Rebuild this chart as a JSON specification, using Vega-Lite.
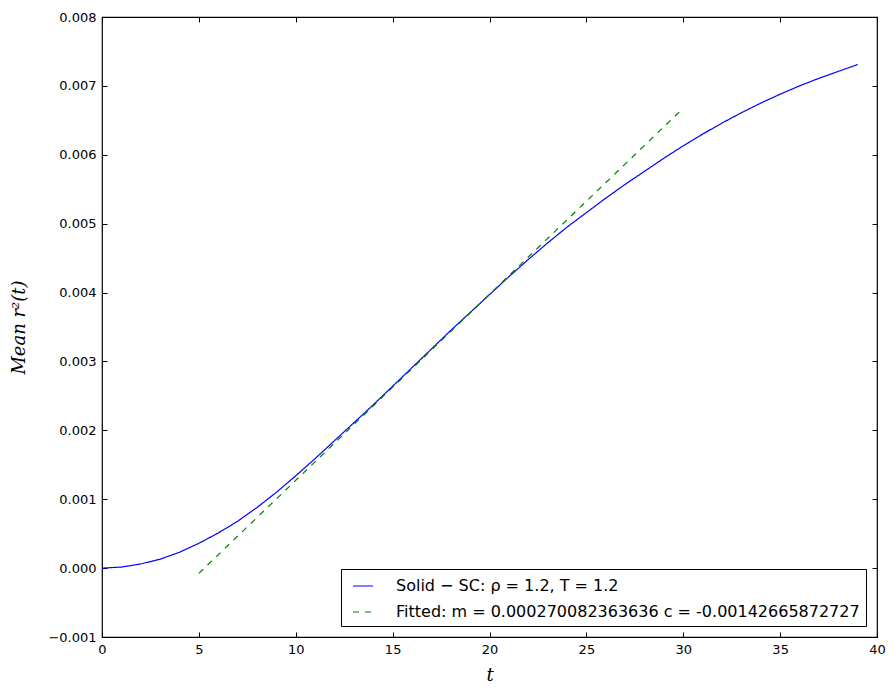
{
  "$schema": "https://vega.github.io/schema/vega-lite/v6.json",
  "width": 775,
  "height": 620,
  "autosize": "none",
  "padding": {"left": 102, "top": 17, "right": 19, "bottom": 56},
  "background": "white",
  "config": {
    "view": {"stroke": "black", "strokeWidth": 1.2},
    "axis": {
      "grid": false,
      "domain": false,
      "tickColor": "black",
      "tickSize": -5,
      "tickWidth": 1,
      "labelFont": "DejaVu Sans",
      "labelFontSize": 13,
      "labelColor": "black",
      "labelPadding": 11,
      "labelFlush": false,
      "titleFont": "DejaVu Serif",
      "titleFontStyle": "italic",
      "titleFontWeight": "normal",
      "titleFontSize": 18,
      "titleColor": "black"
    }
  },
  "data": {
    "values": [
      {"t": 0, "v": 0.0, "series": "Solid − SC: ρ = 1.2,  T = 1.2"},
      {"t": 1, "v": 0.000015, "series": "Solid − SC: ρ = 1.2,  T = 1.2"},
      {"t": 2, "v": 0.00006, "series": "Solid − SC: ρ = 1.2,  T = 1.2"},
      {"t": 3, "v": 0.00013, "series": "Solid − SC: ρ = 1.2,  T = 1.2"},
      {"t": 4, "v": 0.00023, "series": "Solid − SC: ρ = 1.2,  T = 1.2"},
      {"t": 5, "v": 0.00036, "series": "Solid − SC: ρ = 1.2,  T = 1.2"},
      {"t": 6, "v": 0.00051, "series": "Solid − SC: ρ = 1.2,  T = 1.2"},
      {"t": 7, "v": 0.00068, "series": "Solid − SC: ρ = 1.2,  T = 1.2"},
      {"t": 8, "v": 0.00088, "series": "Solid − SC: ρ = 1.2,  T = 1.2"},
      {"t": 9, "v": 0.0011, "series": "Solid − SC: ρ = 1.2,  T = 1.2"},
      {"t": 10, "v": 0.00134, "series": "Solid − SC: ρ = 1.2,  T = 1.2"},
      {"t": 11, "v": 0.00159, "series": "Solid − SC: ρ = 1.2,  T = 1.2"},
      {"t": 12, "v": 0.00185, "series": "Solid − SC: ρ = 1.2,  T = 1.2"},
      {"t": 13, "v": 0.00211, "series": "Solid − SC: ρ = 1.2,  T = 1.2"},
      {"t": 14, "v": 0.00237, "series": "Solid − SC: ρ = 1.2,  T = 1.2"},
      {"t": 15, "v": 0.00264, "series": "Solid − SC: ρ = 1.2,  T = 1.2"},
      {"t": 16, "v": 0.00291, "series": "Solid − SC: ρ = 1.2,  T = 1.2"},
      {"t": 17, "v": 0.00318, "series": "Solid − SC: ρ = 1.2,  T = 1.2"},
      {"t": 18, "v": 0.00345, "series": "Solid − SC: ρ = 1.2,  T = 1.2"},
      {"t": 19, "v": 0.00371, "series": "Solid − SC: ρ = 1.2,  T = 1.2"},
      {"t": 20, "v": 0.00397, "series": "Solid − SC: ρ = 1.2,  T = 1.2"},
      {"t": 21, "v": 0.00423, "series": "Solid − SC: ρ = 1.2,  T = 1.2"},
      {"t": 22, "v": 0.00448, "series": "Solid − SC: ρ = 1.2,  T = 1.2"},
      {"t": 23, "v": 0.00472, "series": "Solid − SC: ρ = 1.2,  T = 1.2"},
      {"t": 24, "v": 0.00495, "series": "Solid − SC: ρ = 1.2,  T = 1.2"},
      {"t": 25, "v": 0.00516, "series": "Solid − SC: ρ = 1.2,  T = 1.2"},
      {"t": 26, "v": 0.00537, "series": "Solid − SC: ρ = 1.2,  T = 1.2"},
      {"t": 27, "v": 0.00557, "series": "Solid − SC: ρ = 1.2,  T = 1.2"},
      {"t": 28, "v": 0.00576, "series": "Solid − SC: ρ = 1.2,  T = 1.2"},
      {"t": 29, "v": 0.00595, "series": "Solid − SC: ρ = 1.2,  T = 1.2"},
      {"t": 30, "v": 0.00613, "series": "Solid − SC: ρ = 1.2,  T = 1.2"},
      {"t": 31, "v": 0.0063, "series": "Solid − SC: ρ = 1.2,  T = 1.2"},
      {"t": 32, "v": 0.00646, "series": "Solid − SC: ρ = 1.2,  T = 1.2"},
      {"t": 33, "v": 0.00661, "series": "Solid − SC: ρ = 1.2,  T = 1.2"},
      {"t": 34, "v": 0.00675, "series": "Solid − SC: ρ = 1.2,  T = 1.2"},
      {"t": 35, "v": 0.00688, "series": "Solid − SC: ρ = 1.2,  T = 1.2"},
      {"t": 36, "v": 0.007, "series": "Solid − SC: ρ = 1.2,  T = 1.2"},
      {"t": 37, "v": 0.00711, "series": "Solid − SC: ρ = 1.2,  T = 1.2"},
      {"t": 38, "v": 0.00721, "series": "Solid − SC: ρ = 1.2,  T = 1.2"},
      {"t": 39, "v": 0.00731, "series": "Solid − SC: ρ = 1.2,  T = 1.2"},
      {"t": 5, "v": -0.0000763, "series": "Fitted: m = 0.000270082363636 c = -0.00142665872727"},
      {"t": 30, "v": 0.0066758, "series": "Fitted: m = 0.000270082363636 c = -0.00142665872727"}
    ]
  },
  "layer": [
    {
      "mark": {"type": "line", "strokeWidth": 1.2, "clip": true},
      "encoding": {
        "x": {
          "field": "t", "type": "quantitative",
          "scale": {"domain": [0, 40], "nice": false, "zero": false},
          "axis": {"orient": "bottom", "values": [0, 5, 10, 15, 20, 25, 30, 35, 40], "title": "t", "titlePadding": 10}
        },
        "y": {
          "field": "v", "type": "quantitative",
          "scale": {"domain": [-0.001, 0.008], "nice": false, "zero": false},
          "axis": {"orient": "left", "values": [-0.001, 0, 0.001, 0.002, 0.003, 0.004, 0.005, 0.006, 0.007, 0.008], "format": ".3f", "title": "Mean r²(t)", "titlePadding": 19}
        },
        "color": {
          "field": "series", "type": "nominal",
          "scale": {"domain": ["Solid − SC: ρ = 1.2,  T = 1.2", "Fitted: m = 0.000270082363636 c = -0.00142665872727"], "range": ["#0000ff", "#008000"]},
          "legend": {
            "title": null,
            "orient": "none",
            "legendX": 239,
            "legendY": 552,
            "direction": "vertical",
            "padding": 6,
            "strokeColor": "black",
            "fillColor": "white",
            "cornerRadius": 0,
            "symbolType": "stroke",
            "symbolSize": 400,
            "symbolStrokeWidth": 1.2,
            "symbolOffset": 5,
            "labelOffset": 22,
            "labelFont": "DejaVu Sans",
            "labelFontSize": 16,
            "labelColor": "black",
            "labelLimit": 800,
            "rowPadding": 7
          }
        },
        "strokeDash": {
          "field": "series", "type": "nominal",
          "scale": {"domain": ["Solid − SC: ρ = 1.2,  T = 1.2", "Fitted: m = 0.000270082363636 c = -0.00142665872727"], "range": [[1, 0], [6, 6]]},
          "legend": null
        }
      }
    },
    {
      "mark": {"type": "line", "opacity": 0},
      "encoding": {
        "x": {
          "field": "t", "type": "quantitative",
          "scale": {"domain": [0, 40], "nice": false, "zero": false},
          "axis": {"orient": "top", "values": [0, 5, 10, 15, 20, 25, 30, 35, 40], "labels": false, "title": null}
        },
        "y": {
          "field": "v", "type": "quantitative",
          "scale": {"domain": [-0.001, 0.008], "nice": false, "zero": false},
          "axis": {"orient": "right", "values": [-0.001, 0, 0.001, 0.002, 0.003, 0.004, 0.005, 0.006, 0.007, 0.008], "labels": false, "title": null}
        }
      }
    }
  ],
  "resolve": {"axis": {"x": "independent", "y": "independent"}}
}
